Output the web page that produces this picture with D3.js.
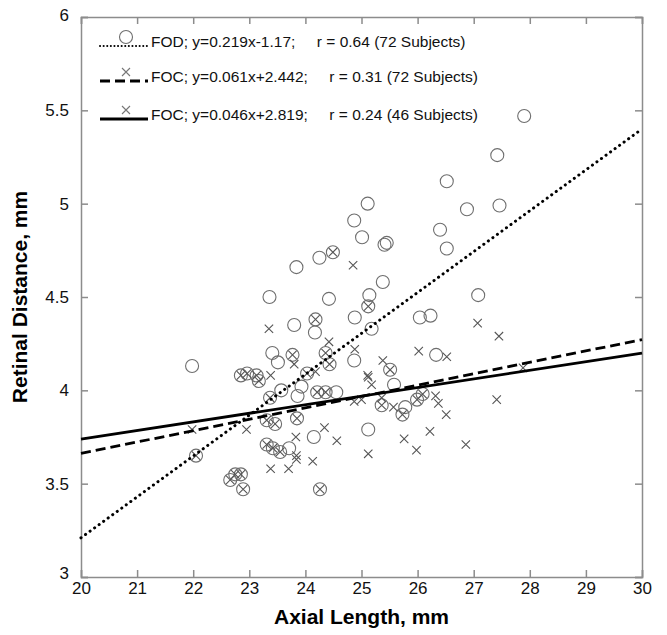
<!DOCTYPE html>
<html>
<head>
<meta charset="utf-8">
<script src="https://cdn.jsdelivr.net/npm/d3@7"></script>
<style>
  body { margin: 0; background: #fff; }
  text { font-family: "Liberation Sans", Arial, sans-serif; }
</style>
</head>
<body>
<svg id="chart" width="667" height="635"></svg>
<script>
// FOD points (circles): [axial length, retinal distance]
var fodPoints = [
  [23.84,4.66],[24.25,4.71],[24.49,4.74],[23.36,4.50],[24.42,4.49],[23.80,4.35],
  [24.18,4.38],[24.17,4.31],[21.98,4.13],[23.41,4.20],[23.51,4.15],[23.77,4.19],
  [24.36,4.20],[24.43,4.14],[22.85,4.08],[22.96,4.09],[23.13,4.08],[23.17,4.05],
  [24.03,4.09],[23.93,4.02],[23.86,3.97],[23.37,3.96],[23.57,4.00],[24.21,3.99],
  [24.36,3.99],[24.55,3.99],[23.31,3.84],[23.46,3.82],[23.85,3.85],[24.15,3.75],
  [22.05,3.65],[23.31,3.71],[23.42,3.69],[23.55,3.67],[23.71,3.69],[22.66,3.52],
  [22.75,3.55],[22.85,3.55],[22.89,3.47],[24.26,3.47],[25.12,4.45],[24.88,4.39],
  [26.04,4.39],[26.23,4.40],[25.18,4.33],[24.87,4.16],[26.33,4.19],[25.51,4.11],
  [25.58,4.03],[25.36,3.92],[25.78,3.91],[25.73,3.87],[25.99,3.95],[26.09,3.98],
  [25.12,3.79],[26.52,5.12],[25.11,5.00],[26.88,4.97],[24.87,4.91],[25.01,4.82],
  [25.41,4.78],[25.45,4.79],[26.40,4.86],[26.52,4.76],[25.38,4.58],[25.14,4.51],
  [27.08,4.51],[27.90,5.47],[27.42,5.26],[27.46,4.99]
];

// FOC points (crosses)
var focPoints = [
  [24.49,4.74],[24.18,4.38],[23.77,4.19],[24.36,4.20],[24.43,4.14],[22.85,4.08],
  [22.96,4.09],[23.13,4.08],[23.17,4.05],[24.03,4.09],[23.37,3.96],[24.21,3.99],
  [24.36,3.99],[23.31,3.84],[23.46,3.82],[23.85,3.85],[22.05,3.65],[23.31,3.71],
  [23.42,3.69],[23.55,3.67],[22.66,3.52],[22.75,3.55],[22.85,3.55],[22.89,3.47],
  [24.26,3.47],[25.12,4.45],[25.51,4.11],[25.36,3.92],[25.73,3.87],[25.99,3.95],
  [26.09,3.98],
  [23.35,4.33],[23.80,4.14],[24.42,4.26],[23.38,4.08],[24.18,4.10],[22.95,3.79],
  [24.34,3.80],[24.56,3.73],[23.83,3.75],[23.84,3.65],[23.84,3.63],[24.13,3.62],
  [23.38,3.58],[23.70,3.58],[27.07,4.36],[24.88,4.22],[26.02,4.21],[26.52,4.18],
  [25.38,4.16],[25.11,4.08],[25.12,4.07],[25.18,4.03],[24.87,3.94],[25.00,3.95],
  [25.36,3.96],[25.57,3.91],[26.32,3.97],[26.37,3.93],[26.51,3.87],[25.76,3.74],
  [26.22,3.78],[25.98,3.68],[25.12,3.66],[26.86,3.71],[24.85,4.67],[27.45,4.29],
  [27.88,4.12],[27.41,3.95],[21.98,3.79]
];

// regression fits: slope, intercept
var fitNames = ["FOD", "FOC", "FOC"];
var fitSlopes = [0.219, 0.061, 0.046];
var fitIntercepts = [-1.17, 2.442, 2.819];
var fitR = ["0.64", "0.31", "0.24"];
var fitN = [72, 72, 46];
var fitMarkers = ["circle", "cross", "cross"];
var fitDash = ["0.1 5.5", "10 5", null];

var xTicks = [20, 21, 22, 23, 24, 25, 26, 27, 28, 29, 30];
var yTicks = [3, 3.5, 4, 4.5, 5, 5.5, 6];

var svg = d3.select("#chart");
var plotLeft = 81, plotRight = 642, plotTop = 17, plotBottom = 577;

var xScale = d3.scaleLinear().domain([20, 30]).range([plotLeft, plotRight]);
var yScale = d3.scaleLinear().domain([3, 6]).range([plotBottom, plotTop]);

var frameColor = "#8c8c8c";

// axes with inward ticks
var xAxis = svg.append("g").attr("transform", "translate(0," + plotBottom + ")")
  .call(d3.axisBottom(xScale).tickValues(xTicks).tickSize(-7).tickPadding(5).tickFormat(d3.format("d")));
var xAxisTop = svg.append("g").attr("transform", "translate(0," + plotTop + ")")
  .call(d3.axisTop(xScale).tickValues(xTicks).tickSize(-7).tickFormat(""));
var yAxis = svg.append("g").attr("transform", "translate(" + plotLeft + ",0)")
  .call(d3.axisLeft(yScale).tickValues(yTicks).tickSize(-7).tickPadding(12).tickFormat(d3.format("")));
var yAxisRight = svg.append("g").attr("transform", "translate(" + plotRight + ",0)")
  .call(d3.axisRight(yScale).tickValues(yTicks).tickSize(-7).tickFormat(""));

[xAxis, xAxisTop, yAxis, yAxisRight].forEach(function (g) {
  g.selectAll("path").attr("stroke", frameColor).attr("stroke-width", 1.5);
  g.selectAll("line").attr("stroke", frameColor).attr("stroke-width", 1.5);
  g.selectAll("text").attr("fill", "#111").style("font-size", "17px");
});
// the "3" label sits low-left like the original
yAxis.selectAll(".tick").filter(function (d) { return d === 3; })
  .select("text").attr("dy", "0.1em");
yAxis.selectAll(".tick").filter(function (d) { return d === 6; })
  .select("text").attr("dy", "0.2em");

// markers
var plot = svg.append("g");

plot.selectAll(".fod")
  .data(fodPoints)
  .enter().append("circle")
  .attr("class", "fod")
  .attr("cx", function (d) { return xScale(d[0]); })
  .attr("cy", function (d) { return yScale(d[1]); })
  .attr("r", 6.5)
  .attr("fill", "none")
  .attr("stroke", "#6e6e6e")
  .attr("stroke-width", 1.1);

function crossPath(cx, cy, s) {
  return "M" + (cx - s) + "," + (cy - s) + "L" + (cx + s) + "," + (cy + s) +
         "M" + (cx - s) + "," + (cy + s) + "L" + (cx + s) + "," + (cy - s);
}

plot.selectAll(".foc")
  .data(focPoints)
  .enter().append("path")
  .attr("class", "foc")
  .attr("d", function (d) { return crossPath(xScale(d[0]), yScale(d[1]), 4.2); })
  .attr("stroke", "#555")
  .attr("stroke-width", 1.1)
  .attr("fill", "none");

// fit lines
var fits = fitSlopes.map(function (m, i) {
  return { m: m, b: fitIntercepts[i], dash: fitDash[i] };
});

plot.selectAll(".fit")
  .data(fits)
  .enter().append("line")
  .attr("class", "fit")
  .attr("x1", xScale(20))
  .attr("x2", xScale(30))
  .attr("y1", function (d) { return yScale(d.m * 20 + d.b); })
  .attr("y2", function (d) { return yScale(d.m * 30 + d.b); })
  .attr("stroke", "#000")
  .attr("stroke-width", function (d, i) { return i === 0 ? 3 : 2.8; })
  .attr("stroke-linecap", function (d, i) { return i === 0 ? "round" : "butt"; })
  .attr("stroke-dasharray", function (d) { return d.dash; });

// legend
var legend = svg.append("g");
var rowY = [46, 81, 119];
fits.forEach(function (d, i) {
  var y = rowY[i];
  legend.append("line")
    .attr("x1", 100).attr("x2", 148)
    .attr("y1", y).attr("y2", y)
    .attr("stroke", "#000")
    .attr("stroke-width", i === 0 ? 2 : 2.8)
    .attr("stroke-linecap", i === 0 ? "round" : "butt")
    .attr("stroke-dasharray", i === 0 ? "0.1 3.5" : d.dash);
  if (fitMarkers[i] === "circle") {
    legend.append("circle").attr("cx", 126).attr("cy", y - 9).attr("r", 6.5)
      .attr("fill", "none").attr("stroke", "#6e6e6e").attr("stroke-width", 1.1);
  } else {
    legend.append("path").attr("d", crossPath(126, y - 9, 4))
      .attr("stroke", "#777").attr("stroke-width", 1.1);
  }
  var sign = d.b < 0 ? "-" : "+";
  legend.append("text")
    .attr("x", 151).attr("y", y - 4)
    .attr("dy", "0.35em")
    .style("font-size", "15.5px")
    .style("white-space", "pre")
    .attr("fill", "#111")
    .text(fitNames[i] + "; y=" + d.m + "x" + sign + Math.abs(d.b) + ";     r = " + fitR[i] + " (" + fitN[i] + " Subjects)");
});

// axis titles
svg.append("text")
  .attr("x", (plotLeft + plotRight) / 2).attr("y", 624)
  .attr("text-anchor", "middle")
  .style("font-size", "21px").style("font-weight", "bold")
  .text("Axial Length, mm");

svg.append("text")
  .attr("transform", "translate(27," + (plotTop + plotBottom) / 2 + ") rotate(-90)")
  .attr("text-anchor", "middle")
  .style("font-size", "21px").style("font-weight", "bold")
  .text("Retinal Distance, mm");
</script>
</body>
</html>
